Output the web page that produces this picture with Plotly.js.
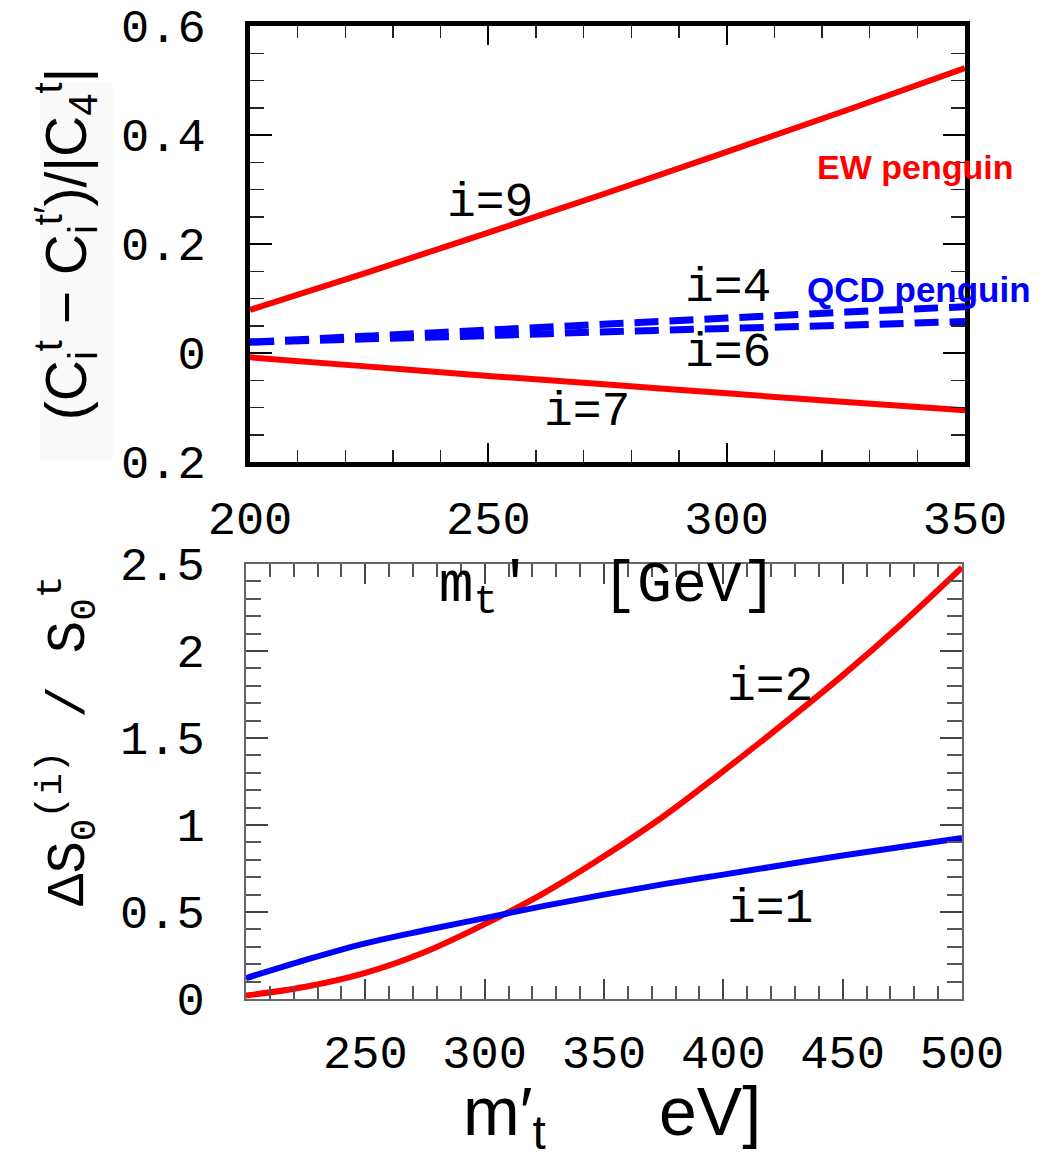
<!DOCTYPE html>
<html>
<head>
<meta charset="utf-8">
<script src="https://cdn.plot.ly/plotly-3.0.1.min.js"></script>
<style>html,body{margin:0;padding:0;background:#fff;}</style>
</head>
<body>
<div id="chart" style="width:1057px;height:1154px;"></div>
<script>
// ---- Top panel: (C_i^t - C_i^t') / |C_4^t| vs m_t' ----
const mtTop = [200, 225, 250, 275, 300, 325, 350];
const c9 = [0.079, 0.149, 0.221, 0.294, 0.369, 0.445, 0.523];
const c7 = [-0.008, -0.025, -0.042, -0.058, -0.074, -0.090, -0.105];
const c4 = [0.020, 0.031, 0.042, 0.053, 0.064, 0.075, 0.085];
const c6 = [0.020, 0.026, 0.032, 0.039, 0.045, 0.051, 0.058];
const topYTickVals = [-0.2, 0, 0.2, 0.4, 0.6];
const topYTickText = ['0.2', '0', '0.2', '0.4', '0.6'];
const topXTickVals = [200, 250, 300, 350];

// ---- Bottom panel: Delta S0^(i) / S0^t vs m_t' ----
const mtBot = [200, 225, 250, 275, 300, 325, 350, 375, 400, 425, 450, 475, 500];
const s2 = [0.02, 0.07, 0.15, 0.27, 0.43, 0.61, 0.82, 1.05, 1.31, 1.58, 1.86, 2.16, 2.48];
const s1 = [0.12, 0.225, 0.32, 0.395, 0.465, 0.535, 0.60, 0.66, 0.715, 0.77, 0.825, 0.875, 0.925];
const botXTickVals = [250, 300, 350, 400, 450, 500];
const botYTickVals = [0, 0.5, 1, 1.5, 2, 2.5];

const RED = '#ff0000', BLUE = '#0000ff';
const MONO = 'Liberation Mono, Courier New, monospace';
const SANS = 'Liberation Sans, Arial, sans-serif';
const NB = '\u00a0';

const traces = [
  {x: mtTop, y: c9, xaxis: 'x', yaxis: 'y', mode: 'lines', name: 'i=9',
   line: {color: RED, width: 6, shape: 'spline'}},
  {x: mtTop, y: c7, xaxis: 'x', yaxis: 'y', mode: 'lines', name: 'i=7',
   line: {color: RED, width: 6, shape: 'spline'}},
  {x: mtTop, y: c4, xaxis: 'x', yaxis: 'y', mode: 'lines', name: 'i=4',
   line: {color: BLUE, width: 7, dash: '24px,11px', shape: 'spline'}},
  {x: mtTop, y: c6, xaxis: 'x', yaxis: 'y', mode: 'lines', name: 'i=6',
   line: {color: BLUE, width: 7, dash: '24px,11px', shape: 'spline'}},
  {x: mtBot, y: s2, xaxis: 'x2', yaxis: 'y2', mode: 'lines', name: 'i=2',
   line: {color: RED, width: 6, shape: 'spline'}},
  {x: mtBot, y: s1, xaxis: 'x2', yaxis: 'y2', mode: 'lines', name: 'i=1',
   line: {color: BLUE, width: 6, shape: 'spline'}}
];

const W = 1057, H = 1154;
const px = v => v / W;
const py = v => 1 - v / H;

const tickFont = {family: MONO, size: 47, color: '#000'};

const layout = {
  width: W, height: H,
  margin: {l: 0, r: 0, t: 0, b: 0},
  paper_bgcolor: '#fff', plot_bgcolor: '#fff',
  showlegend: false,
  xaxis: {
    domain: [px(250), px(965)], anchor: 'y', range: [200, 350],
    tickmode: 'array', tickvals: topXTickVals,
    showline: true, linewidth: 5, linecolor: '#000', mirror: 'ticks',
    ticks: 'inside', ticklen: 19, tickwidth: 2, tickcolor: '#000',
    minor: {dtick: 10, tick0: 200, ticks: 'inside', ticklen: 12, tickwidth: 1.5, tickcolor: '#222'},
    showgrid: false, zeroline: false,
    tickfont: tickFont, ticklabelstandoff: 11,
    title: {text: 'm<sub>t</sub>\'' + NB + NB + '[GeV]', font: {family: MONO, size: 58, color: '#000'}, standoff: 14}
  },
  yaxis: {
    domain: [py(462), py(26)], anchor: 'x', range: [-0.2, 0.6],
    tickmode: 'array', tickvals: topYTickVals, ticktext: topYTickText,
    showline: true, linewidth: 5, linecolor: '#000', mirror: 'ticks',
    ticks: 'inside', ticklen: 22, tickwidth: 2, tickcolor: '#000',
    minor: {dtick: 0.05, tick0: -0.2, ticks: 'inside', ticklen: 14, tickwidth: 1.5, tickcolor: '#222'},
    showgrid: false, zeroline: false,
    tickfont: tickFont, ticklabelstandoff: 30,
    title: {text: '(C<sub>i</sub><sup>t</sup> \u2212 C<sub>i</sub><sup>t\u2032</sup>)/|C<sub>4</sub><sup>t</sup>|' + NB + NB + NB,
            font: {family: SANS, size: 57, color: '#000'}, standoff: 18}
  },
  xaxis2: {
    domain: [px(246), px(962)], anchor: 'y2', range: [200, 500],
    tickmode: 'array', tickvals: botXTickVals,
    showline: true, linewidth: 2, linecolor: '#666', mirror: 'ticks',
    ticks: 'inside', ticklen: 20, tickwidth: 2, tickcolor: '#444',
    minor: {dtick: 10, tick0: 200, ticks: 'inside', ticklen: 13, tickwidth: 2, tickcolor: '#555'},
    showgrid: false, zeroline: false,
    tickfont: tickFont, ticklabelstandoff: 11
  },
  yaxis2: {
    domain: [py(999), py(564)], anchor: 'x2', range: [0, 2.5],
    tickmode: 'array', tickvals: botYTickVals,
    showline: true, linewidth: 2, linecolor: '#666', mirror: 'ticks',
    ticks: 'inside', ticklen: 22, tickwidth: 2, tickcolor: '#444',
    minor: {dtick: 0.1, tick0: 0, ticks: 'inside', ticklen: 15, tickwidth: 2, tickcolor: '#555'},
    showgrid: false, zeroline: false,
    tickfont: tickFont, ticklabelstandoff: 30
  },
  shapes: [
    {type: 'rect', xref: 'paper', yref: 'paper', x0: px(40), x1: px(113), y0: py(460), y1: py(83),
     fillcolor: '#fafafa', line: {width: 0}, layer: 'below'}
  ],
  annotations: [
    // bottom panel axis titles
    {xref: 'paper', yref: 'paper', x: px(612), y: py(1116), xanchor: 'center', yanchor: 'middle',
     text: 'm\u2032<sub>t</sub>' + NB.repeat(6) + 'eV]', showarrow: false,
     font: {family: SANS, size: 68, color: '#000'}},
    {xref: 'paper', yref: 'paper', x: px(68), y: py(741), xanchor: 'center', yanchor: 'middle', textangle: -90,
     text: '\u0394S<sub>0</sub><sup>(i)</sup> / S<sub>0</sub><sup>t</sup>', showarrow: false,
     font: {family: MONO, size: 54, color: '#000'}},
    // curve labels
    {xref: 'x', yref: 'y', x: 250.3, y: 0.275, text: 'i=9', showarrow: false, font: {family: MONO, size: 48, color: '#000'}},
    {xref: 'x', yref: 'y', x: 300.3, y: 0.12, text: 'i=4', showarrow: false, font: {family: MONO, size: 48, color: '#000'}},
    {xref: 'x', yref: 'y', x: 300.3, y: 0.0, text: 'i=6', showarrow: false, font: {family: MONO, size: 48, color: '#000'}},
    {xref: 'x', yref: 'y', x: 270.7, y: -0.108, text: 'i=7', showarrow: false, font: {family: MONO, size: 48, color: '#000'}},
    {xref: 'x', yref: 'y', x: 339.5, y: 0.341, text: '<b>EW penguin</b>', showarrow: false, font: {family: SANS, size: 34, color: RED}},
    {xref: 'x', yref: 'y', x: 340.3, y: 0.116, text: '<b>QCD penguin</b>', showarrow: false, font: {family: SANS, size: 35, color: BLUE}},
    {xref: 'x2', yref: 'y2', x: 419.5, y: 1.795, text: 'i=2', showarrow: false, font: {family: MONO, size: 48, color: '#000'}},
    {xref: 'x2', yref: 'y2', x: 419.5, y: 0.52, text: 'i=1', showarrow: false, font: {family: MONO, size: 48, color: '#000'}}
  ]
};

Plotly.newPlot('chart', traces, layout, {displayModeBar: false, staticPlot: true});
</script>
</body>
</html>
